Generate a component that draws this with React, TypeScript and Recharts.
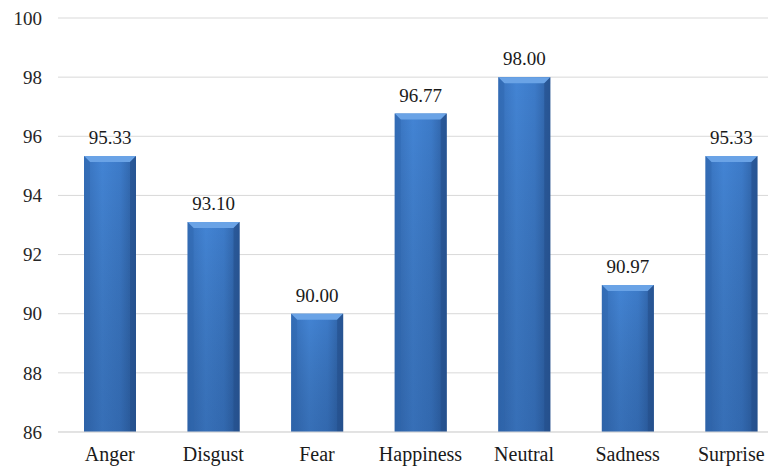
import { Bar, BarChart, CartesianGrid, LabelList, XAxis, YAxis } from "recharts";

const emotions = ["Anger", "Disgust", "Fear", "Happiness", "Neutral", "Sadness", "Surprise"];
const accuracy = [95.33, 93.1, 90.0, 96.77, 98.0, 90.97, 95.33];
const yTicks = [86, 88, 90, 92, 94, 96, 98, 100];

const data = emotions.map((name, i) => ({ name, value: accuracy[i] }));

const FONT = "'Liberation Serif', 'Times New Roman', serif";

type ShapeProps = { x?: number; y?: number; width?: number; height?: number };

// bevelled blue bar, roughly like the office-style 3D look
function BevelBar(props: unknown) {
  const { x = 0, y = 0, width = 0, height = 0 } = (props as ShapeProps) ?? {};
  if (height <= 0) return <g />;
  const b = 6;
  return (
    <g>
      <rect x={x} y={y} width={width} height={height} fill="url(#barBody)" />
      <rect x={x} y={y} width={width} height={height} fill="url(#barShade)" />
      <polygon
        points={`${x},${y} ${x + width},${y} ${x + width - b},${y + b} ${x + b},${y + b}`}
        fill="#6aa3e6"
      />
      <polygon points={`${x},${y} ${x + b},${y + b} ${x + b},${y + height} ${x},${y + height}`} fill="#2f66ad" opacity={0.45} />
      <polygon
        points={`${x + width},${y} ${x + width - b},${y + b} ${x + width - b},${y + height} ${x + width},${y + height}`}
        fill="#244f8a"
        opacity={0.6}
      />
    </g>
  );
}

export default function App() {
  return (
    <div
      style={{
        position: "absolute",
        left: 0,
        top: 0,
        width: 768,
        height: 470,
        overflow: "hidden",
        background: "#fff",
      }}
    >
      <style>{`.emo-chart text { font-family: ${FONT} !important; }`}</style>
      <BarChart
        className="emo-chart"
        width={783}
        height={470}
        data={data}
        margin={{ top: 18, right: 0, left: 0, bottom: 8 }}
      >
        <defs>
          <linearGradient id="barBody" x1="0" y1="0" x2="1" y2="0">
            <stop offset="0%" stopColor="#3771bc" />
            <stop offset="35%" stopColor="#4384d4" />
            <stop offset="70%" stopColor="#3d7bc9" />
            <stop offset="100%" stopColor="#2d5fa2" />
          </linearGradient>
          <linearGradient id="barShade" x1="0" y1="0" x2="0" y2="1">
            <stop offset="0%" stopColor="#000" stopOpacity={0} />
            <stop offset="100%" stopColor="#0b2550" stopOpacity={0.22} />
          </linearGradient>
        </defs>
        <CartesianGrid stroke="#d9d9d9" vertical={false} />
        <XAxis
          dataKey="name"
          height={30}
          tick={{ fontSize: 20, fill: "#1a1a1a" }}
          tickLine={false}
          axisLine={{ stroke: "#d9d9d9" }}
          tickMargin={9}
        />
        <YAxis
          domain={[86, 100]}
          ticks={yTicks}
          width={58}
          tick={{ fontSize: 19, fill: "#262626" }}
          axisLine={false}
          tickLine={false}
          tickMargin={10}
          interval={0}
        />
        <Bar dataKey="value" barSize={52} shape={BevelBar} isAnimationActive={false}>
          <LabelList
            dataKey="value"
            position="top"
            offset={12}
            formatter={(v: unknown) => Number(v).toFixed(2)}
            style={{ fontSize: 19, fill: "#1a1a1a" }}
          />
        </Bar>
      </BarChart>
    </div>
  );
}
